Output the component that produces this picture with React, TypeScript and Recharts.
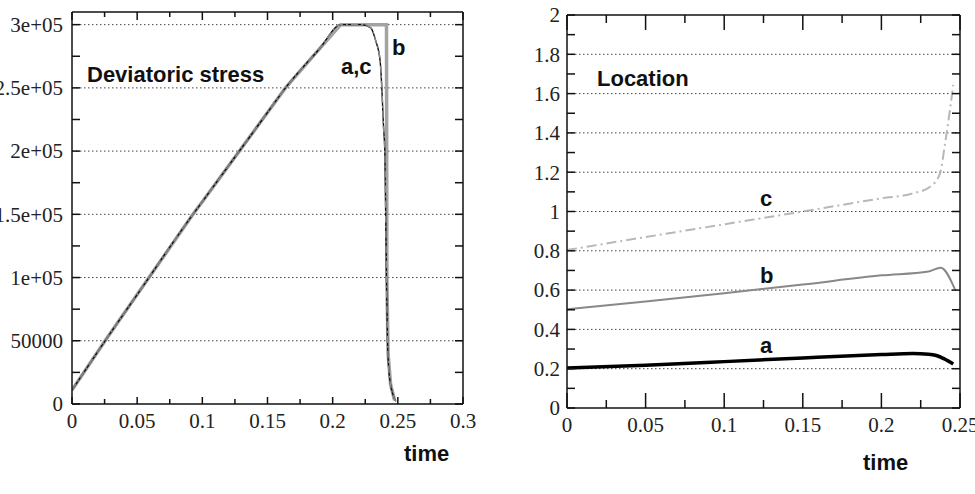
import React from "react";
import { LineChart, Line, XAxis, YAxis, ReferenceLine } from "recharts";

// ---- left panel: deviatoric stress vs time ----
const stressTimeA = [0, 0.0254, 0.05, 0.0928, 0.1, 0.15, 0.1638, 0.19, 0.2062, 0.222, 0.2292, 0.2331, 0.2364, 0.2377, 0.239, 0.24, 0.2413, 0.2421, 0.2435, 0.2475, 0.2485];
const stressA = [11000, 50000, 86500, 150000, 160000, 230500, 250000, 281000, 300000, 300000, 297500, 287000, 271500, 250500, 219500, 200000, 100000, 50000, 22000, 4000, 2000];
const stressTimeB = [0, 0.0254, 0.05, 0.0928, 0.1, 0.15, 0.1638, 0.19, 0.2062, 0.2413, 0.2416, 0.2425, 0.2445, 0.2475];
const stressB = [11000, 50000, 86500, 150000, 160000, 230500, 250000, 281000, 300000, 300000, 100000, 40000, 15000, 3000];
const stressTimeC = [0, 0.0254, 0.05, 0.0928, 0.1, 0.15, 0.1638, 0.19, 0.2062, 0.222, 0.2292, 0.2331, 0.2364, 0.2377, 0.239, 0.24, 0.2413, 0.2421, 0.2435, 0.2475, 0.2485];
const stressC = [11000, 50000, 86500, 150000, 160000, 230500, 250000, 281000, 300000, 300000, 297500, 287000, 271500, 250500, 219500, 200000, 100000, 50000, 22000, 4000, 2000];

const stressXTicks = [0, 0.025, 0.05, 0.075, 0.1, 0.125, 0.15, 0.175, 0.2, 0.225, 0.25, 0.275, 0.3];
const stressXLabels = ["0", "", "0.05", "", "0.1", "", "0.15", "", "0.2", "", "0.25", "", "0.3"];
const stressYTicks = [0, 25000, 50000, 75000, 100000, 125000, 150000, 175000, 200000, 225000, 250000, 275000, 300000];
const stressYLabels = ["0", "", "50000", "", "1e+05", "", "1.5e+05", "", "2e+05", "", "2.5e+05", "", "3e+05"];
const stressGrid = [50000, 100000, 150000, 200000, 250000, 300000];

// ---- right panel: location vs time ----
const locTimeA = [0, 0.05, 0.1, 0.15, 0.2, 0.22, 0.23, 0.235, 0.24, 0.2457];
const locA = [0.203, 0.218, 0.236, 0.255, 0.272, 0.277, 0.274, 0.267, 0.25, 0.224];
const locTimeB = [0, 0.05, 0.1, 0.15, 0.2, 0.23, 0.2377, 0.2468];
const locB = [0.502, 0.542, 0.584, 0.628, 0.675, 0.695, 0.714, 0.604];
const locTimeC = [0, 0.05, 0.1, 0.15, 0.2, 0.22, 0.231, 0.2373, 0.2405, 0.2436, 0.2457];
const locC = [0.804, 0.87, 0.935, 1.0, 1.067, 1.092, 1.126, 1.194, 1.347, 1.517, 1.644];

const locXTicks = [0, 0.025, 0.05, 0.075, 0.1, 0.125, 0.15, 0.175, 0.2, 0.225, 0.25];
const locXLabels = ["0", "", "0.05", "", "0.1", "", "0.15", "", "0.2", "", "0.25"];
const locYTicks = [0, 0.1, 0.2, 0.3, 0.4, 0.5, 0.6, 0.7, 0.8, 0.9, 1, 1.1, 1.2, 1.3, 1.4, 1.5, 1.6, 1.7, 1.8, 1.9, 2];
const locYLabels = ["0", "", "0.2", "", "0.4", "", "0.6", "", "0.8", "", "1", "", "1.2", "", "1.4", "", "1.6", "", "1.8", "", "2"];
const locGrid = [0.2, 0.4, 0.6, 0.8, 1, 1.2, 1.4, 1.6, 1.8];

const zip = (ts: number[], vs: number[]) => ts.map((t, i) => ({ t, v: vs[i] }));

const SERIF = "'Liberation Serif', 'Times New Roman', serif";
const SANS = "'Liberation Sans', Arial, sans-serif";

// ticks point into the plot, labels sit outside
const FrameTick = (props) => {
  const { x, y, index, side, labels, showText, majorLen, minorLen, gap } = props;
  const label = labels[index];
  const len = label !== "" ? majorLen : minorLen;
  let line;
  let text = null;
  if (side === "bottom") {
    line = <line x1={x} y1={y} x2={x} y2={y - len} />;
    if (showText && label)
      text = (
        <text x={x} y={y + 24} textAnchor="middle">
          {label}
        </text>
      );
  } else if (side === "top") {
    line = <line x1={x} y1={y} x2={x} y2={y + len} />;
  } else if (side === "left") {
    line = <line x1={x} y1={y} x2={x + len} y2={y} />;
    if (showText && label)
      text = (
        <text x={x - gap} y={y} dy="0.35em" textAnchor="end">
          {label}
        </text>
      );
  } else {
    line = <line x1={x} y1={y} x2={x - len} y2={y} />;
  }
  return (
    <g>
      <g stroke="#111" strokeWidth={1.5}>{line}</g>
      <g fill="#222" fontFamily={SERIF} fontSize={21}>
        {text}
      </g>
    </g>
  );
};

const tickFn = (side, labels, showText, majorLen, minorLen, gap = 0) => (p) => (
  <FrameTick
    {...p}
    side={side}
    labels={labels}
    showText={showText}
    majorLen={majorLen}
    minorLen={minorLen}
    gap={gap}
  />
);

const axisCommon = {
  type: "number" as const,
  tickSize: 0,
  tickMargin: 0,
  tickLine: false,
  interval: 0,
  allowDataOverflow: true,
  axisLine: { stroke: "#111", strokeWidth: 1.5 },
};

const labelStyle = { fontFamily: SANS, fontWeight: 700, fontSize: 22, fill: "#111" };

const StressPanel = () => (
  <div style={{ position: "absolute", left: 0, top: 0, width: 480, height: 494 }}>
    <LineChart width={480} height={494} margin={{ top: 11, right: 16, bottom: 0, left: 0 }}>
      <XAxis {...axisCommon} xAxisId="b" dataKey="t" domain={[0, 0.3]} ticks={stressXTicks} height={90}
        tick={tickFn("bottom", stressXLabels, true, 7, 5)} />
      <XAxis {...axisCommon} xAxisId="t" orientation="top" dataKey="t" domain={[0, 0.3]} ticks={stressXTicks} height={1}
        tick={tickFn("top", stressXLabels, false, 8, 5)} />
      <YAxis {...axisCommon} yAxisId="l" domain={[0, 310000]} ticks={stressYTicks} width={72}
        tick={tickFn("left", stressYLabels, true, 8, 8, 9)} />
      <YAxis {...axisCommon} yAxisId="r" orientation="right" domain={[0, 310000]} ticks={stressYTicks} width={1}
        tick={tickFn("right", stressYLabels, false, 8, 8)} />
      {stressGrid.map((g) => (
        <ReferenceLine key={g} xAxisId="b" yAxisId="l" y={g} stroke="#444" strokeWidth={1} strokeDasharray="1.5 2.5" />
      ))}
      <Line xAxisId="b" yAxisId="l" data={zip(stressTimeB, stressB)} dataKey="v" type="linear"
        stroke="#a3a3a3" strokeWidth={3.5} dot={false} isAnimationActive={false} />
      <Line xAxisId="b" yAxisId="l" data={zip(stressTimeA, stressA)} dataKey="v" type="monotone"
        stroke="#111" strokeWidth={1.4} dot={false} isAnimationActive={false} />
      <Line xAxisId="b" yAxisId="l" data={zip(stressTimeC, stressC)} dataKey="v" type="monotone"
        stroke="#8a8a8a" strokeWidth={1.4} strokeDasharray="7 3 2 3" dot={false} isAnimationActive={false} />
    </LineChart>
    <svg width={480} height={494} style={{ position: "absolute", left: 0, top: 0, pointerEvents: "none" }}>
      <g style={labelStyle}>
        <text x={87} y={82}>Deviatoric stress</text>
        <text x={341} y={74}>a,c</text>
        <text x={392} y={55}>b</text>
        <text x={404} y={461}>time</text>
      </g>
    </svg>
  </div>
);

const LocationPanel = () => (
  <div style={{ position: "absolute", left: 490, top: 0, width: 485, height: 494 }}>
    <LineChart width={485} height={494} margin={{ top: 14, right: 14, bottom: 0, left: 0 }}>
      <XAxis {...axisCommon} xAxisId="b" dataKey="t" domain={[0, 0.25]} ticks={locXTicks} height={86}
        tick={tickFn("bottom", locXLabels, true, 15, 8)} />
      <XAxis {...axisCommon} xAxisId="t" orientation="top" dataKey="t" domain={[0, 0.25]} ticks={locXTicks} height={1}
        tick={tickFn("top", locXLabels, false, 15, 8)} />
      <YAxis {...axisCommon} yAxisId="l" domain={[0, 2]} ticks={locYTicks} width={77}
        tick={tickFn("left", locYLabels, true, 8, 8, 7)} />
      <YAxis {...axisCommon} yAxisId="r" orientation="right" domain={[0, 2]} ticks={locYTicks} width={1}
        tick={tickFn("right", locYLabels, false, 8, 8)} />
      {locGrid.map((g) => (
        <ReferenceLine key={g} xAxisId="b" yAxisId="l" y={g} stroke="#444" strokeWidth={1} strokeDasharray="1.5 2.5" />
      ))}
      <Line xAxisId="b" yAxisId="l" data={zip(locTimeC, locC)} dataKey="v" type="monotone"
        stroke="#b8b8b8" strokeWidth={2} strokeDasharray="10 4 2 4" dot={false} isAnimationActive={false} />
      <Line xAxisId="b" yAxisId="l" data={zip(locTimeB, locB)} dataKey="v" type="monotone"
        stroke="#888" strokeWidth={2} dot={false} isAnimationActive={false} />
      <Line xAxisId="b" yAxisId="l" data={zip(locTimeA, locA)} dataKey="v" type="monotone"
        stroke="#000" strokeWidth={3.5} dot={false} isAnimationActive={false} />
    </LineChart>
    <svg width={485} height={494} style={{ position: "absolute", left: 0, top: 0, pointerEvents: "none" }}>
      <g style={labelStyle}>
        <text x={107} y={86}>Location</text>
        <text x={270} y={206}>c</text>
        <text x={270} y={283}>b</text>
        <text x={270} y={353}>a</text>
        <text x={373} y={470}>time</text>
      </g>
    </svg>
  </div>
);

export default function App() {
  return (
    <div style={{ position: "absolute", left: 0, top: 0, width: 975, height: 494, background: "#fff", overflow: "hidden" }}>
      <StressPanel />
      <LocationPanel />
    </div>
  );
}
